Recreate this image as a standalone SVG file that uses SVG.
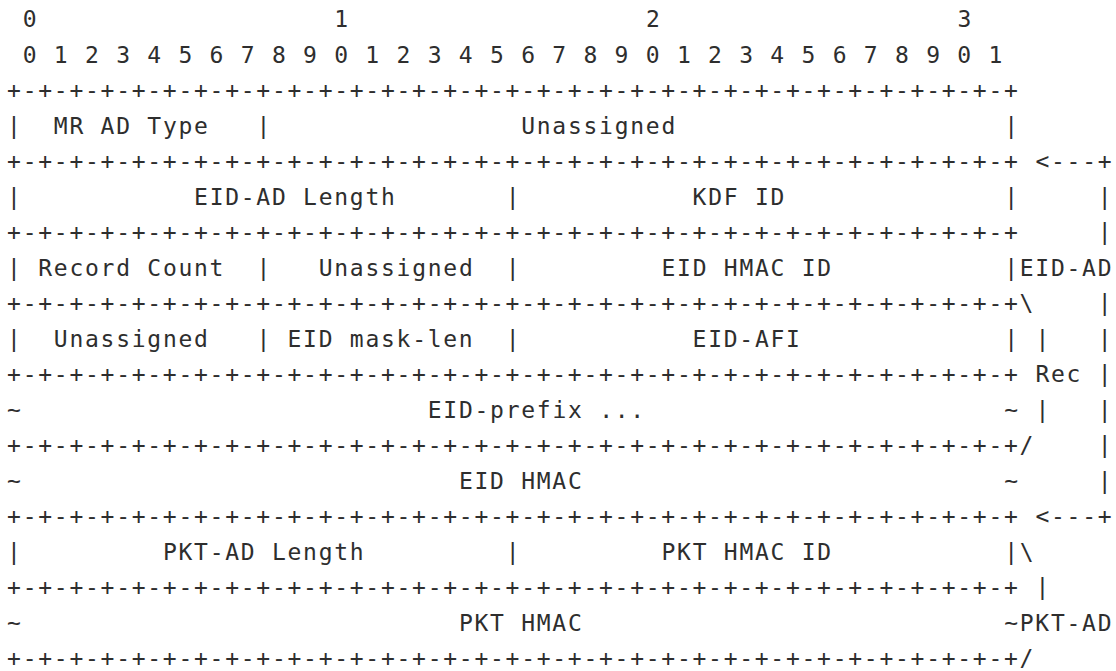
<svg xmlns="http://www.w3.org/2000/svg" width="1116" height="671" viewBox="0 0 1116 671">
<style>
text{font-family:"DejaVu Sans Mono","Liberation Mono",monospace;font-size:23px;letter-spacing:1.73px;fill:#2e2e2e;white-space:pre}
</style>
<rect width="1116" height="671" fill="#fff"/>
<g transform="translate(-0.6,-1.5)">
<g id="header">
<text y="28.5"><tspan x="23.28">0</tspan><tspan x="334.9">1</tspan><tspan x="646.5">2</tspan><tspan x="958.1">3</tspan></text>
<text x="23.28" y="64">0 1 2 3 4 5 6 7 8 9 0 1 2 3 4 5 6 7 8 9 0 1 2 3 4 5 6 7 8 9 0 1</text>
</g>
<g id="packet">
<text x="7.7" y="99.5">+-+-+-+-+-+-+-+-+-+-+-+-+-+-+-+-+-+-+-+-+-+-+-+-+-+-+-+-+-+-+-+-+</text>
<text y="135"><tspan x="7.7">|</tspan><tspan x="54.44">MR AD Type</tspan><tspan x="257.0">|</tspan><tspan x="521.8">Unassigned</tspan><tspan x="1004.8">|</tspan></text>
<text y="170.5"><tspan x="7.7">+-+-+-+-+-+-+-+-+-+-+-+-+-+-+-+-+-+-+-+-+-+-+-+-+-+-+-+-+-+-+-+-+</tspan><tspan x="1036.0">&lt;---+</tspan></text>
<text y="206"><tspan x="7.7">|</tspan><tspan x="194.66">EID-AD Length</tspan><tspan x="506.3">|</tspan><tspan x="693.2">KDF ID</tspan><tspan x="1004.8">|</tspan><tspan x="1098.3">|</tspan></text>
<text y="241.5"><tspan x="7.7">+-+-+-+-+-+-+-+-+-+-+-+-+-+-+-+-+-+-+-+-+-+-+-+-+-+-+-+-+-+-+-+-+</tspan><tspan x="1098.3">|</tspan></text>
<text y="277"><tspan x="7.7">|</tspan><tspan x="38.86">Record Count</tspan><tspan x="257.0">|</tspan><tspan x="319.3">Unassigned</tspan><tspan x="506.3">|</tspan><tspan x="662.1">EID HMAC ID</tspan><tspan x="1004.8">|EID-AD</tspan></text>
<text y="312.5"><tspan x="7.7">+-+-+-+-+-+-+-+-+-+-+-+-+-+-+-+-+-+-+-+-+-+-+-+-+-+-+-+-+-+-+-+-+\</tspan><tspan x="1098.3">|</tspan></text>
<text y="348"><tspan x="7.7">|</tspan><tspan x="54.44">Unassigned</tspan><tspan x="257.0">|</tspan><tspan x="288.14">EID mask-len</tspan><tspan x="506.3">|</tspan><tspan x="693.2">EID-AFI</tspan><tspan x="1004.8">|</tspan><tspan x="1036.0">|</tspan><tspan x="1098.3">|</tspan></text>
<text y="383.5"><tspan x="7.7">+-+-+-+-+-+-+-+-+-+-+-+-+-+-+-+-+-+-+-+-+-+-+-+-+-+-+-+-+-+-+-+-+</tspan><tspan x="1036.0">Rec</tspan><tspan x="1098.3">|</tspan></text>
<text y="419"><tspan x="7.7">~</tspan><tspan x="428.4">EID-prefix ...</tspan><tspan x="1004.8">~</tspan><tspan x="1036.0">|</tspan><tspan x="1098.3">|</tspan></text>
<text y="454.5"><tspan x="7.7">+-+-+-+-+-+-+-+-+-+-+-+-+-+-+-+-+-+-+-+-+-+-+-+-+-+-+-+-+-+-+-+-+/</tspan><tspan x="1098.3">|</tspan></text>
<text y="490"><tspan x="7.7">~</tspan><tspan x="459.5">EID HMAC</tspan><tspan x="1004.8">~</tspan><tspan x="1098.3">|</tspan></text>
<text y="525.5"><tspan x="7.7">+-+-+-+-+-+-+-+-+-+-+-+-+-+-+-+-+-+-+-+-+-+-+-+-+-+-+-+-+-+-+-+-+</tspan><tspan x="1036.0">&lt;---+</tspan></text>
<text y="561"><tspan x="7.7">|</tspan><tspan x="163.5">PKT-AD Length</tspan><tspan x="506.3">|</tspan><tspan x="662.1">PKT HMAC ID</tspan><tspan x="1004.8">|\</tspan></text>
<text y="596.5"><tspan x="7.7">+-+-+-+-+-+-+-+-+-+-+-+-+-+-+-+-+-+-+-+-+-+-+-+-+-+-+-+-+-+-+-+-+</tspan><tspan x="1036.0">|</tspan></text>
<text y="632"><tspan x="7.7">~</tspan><tspan x="459.5">PKT HMAC</tspan><tspan x="1004.8">~PKT-AD</tspan></text>
<text x="7.7" y="667.5">+-+-+-+-+-+-+-+-+-+-+-+-+-+-+-+-+-+-+-+-+-+-+-+-+-+-+-+-+-+-+-+-+/</text>
</g>
</g>
</svg>
